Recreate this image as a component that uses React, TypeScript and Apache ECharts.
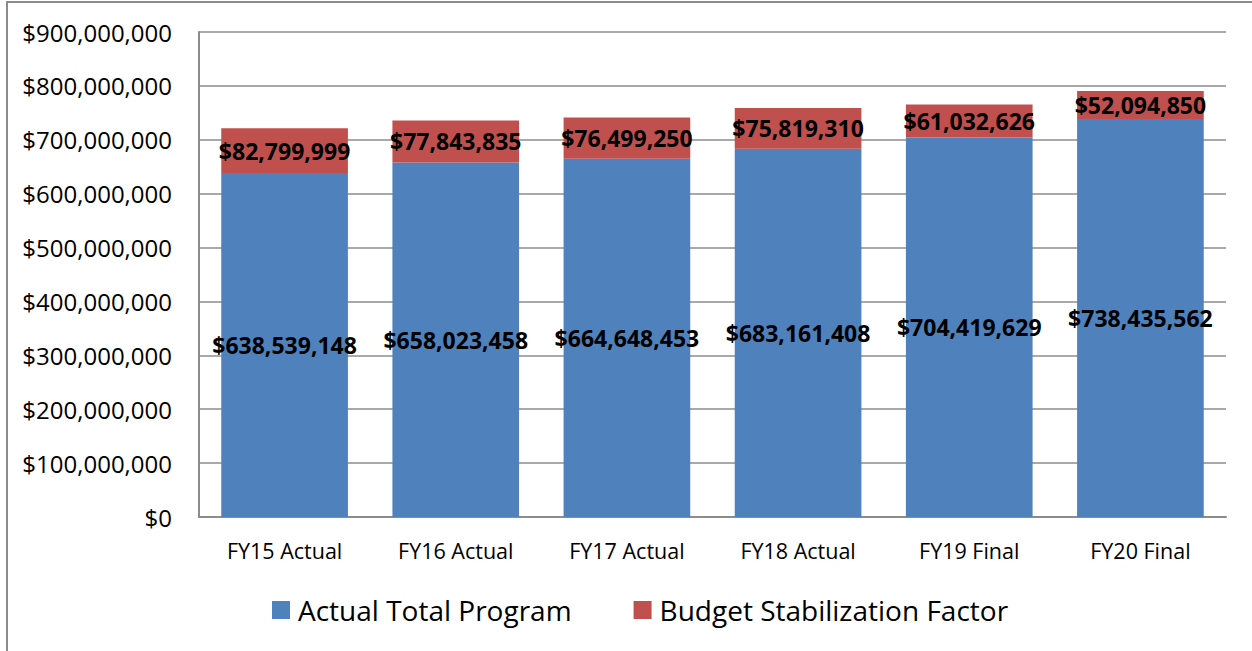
import React, { useEffect, useRef } from "react";
import * as echarts from "echarts";

const categories = ["FY15 Actual", "FY16 Actual", "FY17 Actual", "FY18 Actual", "FY19 Final", "FY20 Final"];
const actualTotalProgram = [638539148, 658023458, 664648453, 683161408, 704419629, 738435562];
const budgetStabilization = [82799999, 77843835, 76499250, 75819310, 61032626, 52094850];
const seriesNames = ["Actual Total Program", "Budget Stabilization Factor"];

const FONT = "'Open Sans', 'DejaVu Sans', sans-serif";
const money = (v: number) => "$" + Math.round(v).toLocaleString("en-US");

export default function App() {
  const ref = useRef<HTMLDivElement>(null);
  useEffect(() => {
    if (!ref.current) return;
    const chart = echarts.init(ref.current, null, { renderer: "svg" });
    const labelStyle = {
      show: true,
      position: "inside" as const,
      color: "#000",
      fontWeight: "bold" as const,
      fontFamily: FONT,
      fontSize: 23,
      formatter: (p: any) => money(p.value),
    };
    chart.setOption({
      animation: false,
      backgroundColor: "#fff",
      textStyle: { fontFamily: FONT },
      graphic: [
        {
          type: "rect",
          shape: { x: 7, y: 2, width: 1300, height: 700 },
          style: { fill: "none", stroke: "#8c8c8c", lineWidth: 2 },
          silent: true,
        },
      ],
      grid: { left: 199, right: 26, top: 32, bottom: 134, containLabel: false },
      legend: {
        data: seriesNames,
        bottom: 22,
        left: 267,
        itemWidth: 18,
        itemHeight: 18,
        itemGap: 62,
        icon: "rect",
        textStyle: { fontSize: 28, color: "#000", fontFamily: FONT, padding: [0, 0, 0, 3] },
      },
      xAxis: {
        type: "category",
        data: categories,
        axisLine: { lineStyle: { color: "#8c8c8c", width: 2 } },
        axisTick: { show: false },
        axisLabel: { color: "#000", fontSize: 21.5, margin: 22, fontFamily: FONT },
      },
      yAxis: {
        type: "value",
        min: 0,
        max: 900000000,
        interval: 100000000,
        axisLine: { show: true, lineStyle: { color: "#8c8c8c", width: 2 } },
        axisTick: { show: false },
        splitLine: { lineStyle: { color: "#8c8c8c", width: 1.5 } },
        axisLabel: { color: "#000", fontSize: 24, margin: 27, fontFamily: FONT, formatter: (v: number) => money(v) },
      },
      series: [
        {
          name: seriesNames[0],
          type: "bar",
          stack: "total",
          data: actualTotalProgram,
          barCategoryGap: "26%",
          itemStyle: { color: "#4F81BD" },
          label: labelStyle,
        },
        {
          name: seriesNames[1],
          type: "bar",
          stack: "total",
          data: budgetStabilization,
          itemStyle: { color: "#C0504D" },
          label: labelStyle,
        },
      ],
    });
    return () => chart.dispose();
  }, []);
  return <div ref={ref} style={{ position: "fixed", left: 0, top: 0, width: 1252, height: 651 }} />;
}
